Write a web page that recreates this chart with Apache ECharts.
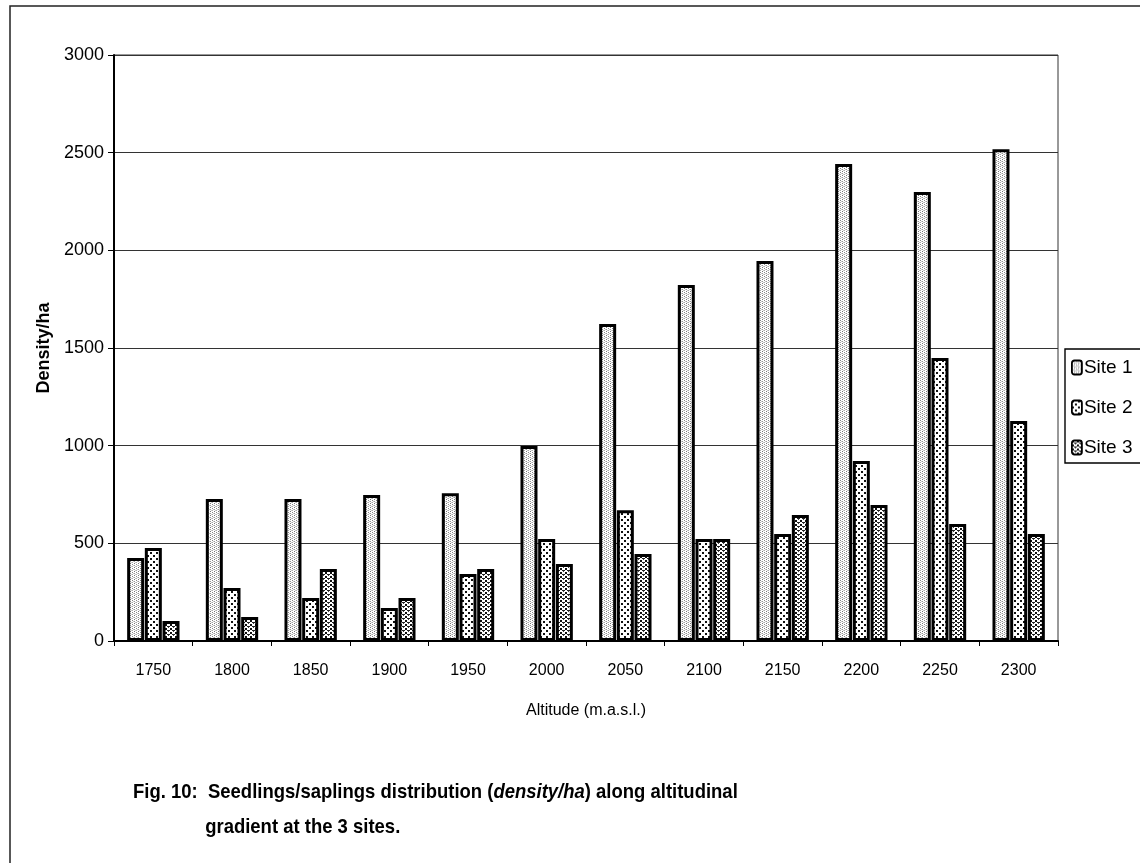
<!DOCTYPE html>
<html>
<head>
<meta charset="utf-8">
<title>Seedlings/saplings density along altitudinal gradient</title>
<script src="https://cdn.jsdelivr.net/npm/echarts@6/dist/echarts.min.js"></script>
<style>
  html, body { margin: 0; padding: 0; background: #fff; }
  #chart { width: 1140px; height: 863px; }
</style>
</head>
<body>
<div id="chart"></div>
<script>
// Altitude classes (m a.s.l.)
const altitudes = ['1750', '1800', '1850', '1900', '1950', '2000', '2050', '2100', '2150', '2200', '2250', '2300'];
// Seedling/sapling density (individuals per ha) per site
const site1 = [425, 727, 727, 747, 757, 998, 1623, 1822, 1945, 2442, 2298, 2518];
const site2 = [476, 271, 220, 169, 343, 522, 670, 522, 548, 921, 1449, 1126];
const site3 = [102, 123, 369, 220, 369, 394, 445, 522, 645, 696, 599, 548];
const seriesNames = ['Site 1', 'Site 2', 'Site 3'];
const yTicks = [0, 500, 1000, 1500, 2000, 2500, 3000];

const FONT = '"Liberation Sans", Arial, sans-serif';

// Small repeating fill tiles for the three hatch styles
function makeTile(w, h, rects) {
  const c = document.createElement('canvas');
  c.width = w; c.height = h;
  const g = c.getContext('2d');
  g.fillStyle = '#ffffff';
  g.fillRect(0, 0, w, h);
  rects.forEach(([x, y, rw, rh, col]) => { g.fillStyle = col; g.fillRect(x, y, rw, rh); });
  return c;
}
// light vertical stipple
const tile1 = makeTile(4, 4, [
  [0, 0, 1, 1, '#888'], [0, 2, 1, 1, '#aaa'], [2, 1, 1, 1, '#999'], [2, 3, 1, 1, '#777'],
  [1, 1, 1, 1, '#ccc'], [3, 2, 1, 1, '#ccc']
]);
// open dotted lattice
const tile2 = makeTile(6, 6, [
  [0, 0, 2, 2, '#111'], [3, 3, 2, 2, '#111']
]);
// denser dotted lattice
const tile3 = makeTile(5, 4, [
  [0, 0, 2, 2, '#111'], [2, 2, 3, 1, '#222'], [3, 3, 1, 1, '#444']
]);
const tiles = [tile1, tile2, tile3];
const values = [site1, site2, site3];

const chart = echarts.init(document.getElementById('chart'), null, { renderer: 'canvas' });

chart.setOption({
  backgroundColor: '#ffffff',
  animation: false,
  grid: { left: 114, right: 82, top: 55, bottom: 222, containLabel: false,
          show: true, borderColor: '#333', borderWidth: 1 },
  legend: {
    orient: 'vertical',
    left: 1065, top: 349,
    padding: [9, 30, 6, 6],
    itemGap: 21,
    itemWidth: 10, itemHeight: 14,
    borderColor: '#000', borderWidth: 1.4,
    backgroundColor: '#fff',
    data: seriesNames,
    itemStyle: { borderColor: '#000', borderWidth: 1.8 },
    textStyle: { fontFamily: FONT, fontSize: 19, color: '#000', padding: [0, 0, 0, -3] }
  },
  xAxis: {
    type: 'category',
    data: altitudes,
    name: 'Altitude (m.a.s.l.)',
    nameLocation: 'middle',
    nameGap: 62,
    nameTextStyle: { fontFamily: FONT, fontSize: 16, color: '#000' },
    axisLine: { lineStyle: { color: '#000', width: 2 } },
    axisTick: { show: true, length: 5, lineStyle: { color: '#000', width: 1 } },
    axisLabel: { fontFamily: FONT, fontSize: 16, color: '#000', margin: 22 },
    splitLine: { show: false }
  },
  yAxis: {
    type: 'value',
    min: 0, max: 3000, interval: 500,
    name: 'Density/ha',
    nameLocation: 'middle',
    nameGap: 60,
    nameRotate: 90,
    nameTextStyle: { fontFamily: FONT, fontSize: 18, fontWeight: 'bold', color: '#000' },
    axisLine: { show: true, lineStyle: { color: '#000', width: 2 } },
    axisTick: { show: true, length: 6, lineStyle: { color: '#000' } },
    axisLabel: {
      fontFamily: FONT, fontSize: 18, color: '#000', margin: 10,
      formatter: v => yTicks.includes(v) ? String(v) : ''
    },
    splitLine: { show: true, lineStyle: { color: '#333', width: 1.2 } }
  },
  series: seriesNames.map((name, i) => ({
    name,
    type: 'bar',
    data: values[i],
    barWidth: 17,
    barGap: '4%',
    itemStyle: {
      color: { image: tiles[i], repeat: 'repeat' },
      borderColor: '#000',
      borderWidth: 3
    }
  })),
  graphic: [
    {
      type: 'rect',
      shape: { x: 10, y: 6, width: 1200, height: 900 },
      style: { fill: 'none', stroke: '#222', lineWidth: 1.5 },
      silent: true
    },
    {
      type: 'text',
      x: 133, y: 775,
      scaleX: 0.88,
      style: {
        text: '{n|Fig. 10:  Seedlings/saplings distribution (}{i|density/ha}{n|) along altitudinal}\n{p|}{n|gradient at the 3 sites.}',
        rich: {
          n: { fontFamily: FONT, fontSize: 21, fontWeight: 'bold', fill: '#000', lineHeight: 35 },
          i: { fontFamily: FONT, fontSize: 21, fontWeight: 'bold', fontStyle: 'italic', fill: '#000', lineHeight: 35 },
          p: { width: 82, lineHeight: 35 }
        }
      }
    }
  ]
});
</script>
</body>
</html>
